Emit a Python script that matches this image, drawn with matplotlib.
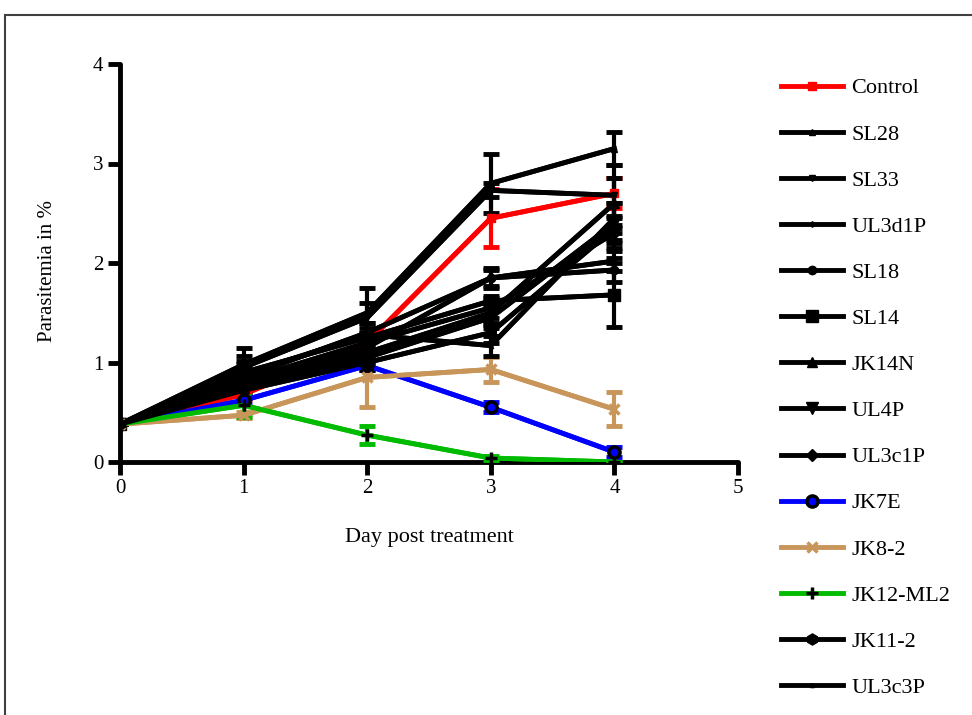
import matplotlib
matplotlib.use("Agg")
import matplotlib.pyplot as plt
from matplotlib.patches import Rectangle

days = [0, 1, 2, 3, 4]
series_names = ["Control", "SL28", "SL33", "UL3d1P", "SL18", "SL14", "JK14N",
                "UL4P", "UL3c1P", "JK7E", "JK8-2", "JK12-ML2", "JK11-2", "UL3c3P"]

control = [0.38, 0.68, 1.20, 2.45, 2.70]
sl28 = [0.38, 0.98, 1.50, 2.80, 3.15]
sl33 = [0.38, 0.95, 1.45, 2.73, 2.68]
ul3d1p = [0.38, 0.85, 1.30, 1.85, 2.02]
sl18 = [0.38, 0.80, 1.15, 1.85, 1.93]
sl14 = [0.38, 0.90, 1.25, 1.62, 1.68]
jk14n = [0.38, 0.78, 1.10, 1.50, 2.60]
ul4p = [0.38, 0.75, 1.05, 1.45, 2.40]
ul3c1p = [0.38, 0.82, 1.20, 1.55, 2.30]
jk7e = [0.38, 0.62, 0.97, 0.55, 0.10]
jk8_2 = [0.38, 0.47, 0.85, 0.93, 0.53]
jk12_ml2 = [0.38, 0.57, 0.27, 0.04, 0.00]
jk11_2 = [0.38, 0.72, 1.00, 1.30, 2.35]
ul3c3p = [0.38, 0.88, 1.28, 1.17, 2.45]

control_err = [0.0, 0.05, 0.08, 0.29, 0.15]
sl28_err = [0.0, 0.17, 0.25, 0.30, 0.17]
sl33_err = [0.0, 0.12, 0.15, 0.07, 0.30]
ul3d1p_err = [0.0, 0.10, 0.10, 0.08, 0.10]
sl18_err = [0.0, 0.10, 0.08, 0.10, 0.12]
sl14_err = [0.0, 0.12, 0.10, 0.05, 0.32]
jk14n_err = [0.0, 0.08, 0.10, 0.12, 0.25]
ul4p_err = [0.0, 0.08, 0.08, 0.10, 0.20]
ul3c1p_err = [0.0, 0.10, 0.10, 0.10, 0.15]
jk7e_err = [0.0, 0.04, 0.05, 0.05, 0.05]
jk8_2_err = [0.0, 0.03, 0.30, 0.13, 0.17]
jk12_ml2_err = [0.0, 0.12, 0.09, 0.02, 0.0]
jk11_2_err = [0.0, 0.08, 0.08, 0.10, 0.12]
ul3c3p_err = [0.0, 0.10, 0.12, 0.10, 0.15]

values = [control, sl28, sl33, ul3d1p, sl18, sl14, jk14n, ul4p, ul3c1p,
          jk7e, jk8_2, jk12_ml2, jk11_2, ul3c3p]
errors = [control_err, sl28_err, sl33_err, ul3d1p_err, sl18_err, sl14_err,
          jk14n_err, ul4p_err, ul3c1p_err, jk7e_err, jk8_2_err, jk12_ml2_err,
          jk11_2_err, ul3c3p_err]

colors = ["#ff0000", "black", "black", "black", "black", "black", "black",
          "black", "black", "#0000ff", "#c8965a", "#00bb00", "black", "black"]
markers = ["s", "^", "v", "d", "o", "s", "^", "v", "D", "o", "x", "+", "h", "^"]
msizes = [6, 5, 5, 3, 6, 8, 7, 8, 6, 8, 7, 8, 8, 3]

plt.rcParams["font.family"] = ["Liberation Serif", "DejaVu Serif"]

fig = plt.figure(figsize=(9.72, 7.15), dpi=100)
ax = fig.add_axes([120 / 972, 253 / 715, 618 / 972, 398 / 715])

handles = []
for vals, errs, c, m, ms, name in zip(values, errors, colors, markers, msizes, series_names):
    ax.errorbar(days, vals, yerr=errs, color=c, lw=3.5, capsize=6, capthick=3.5,
                elinewidth=3, zorder=3)
    mfc = c
    mec = "black" if name == "JK7E" else c
    mew = 2.5 if name in ("JK7E", "JK8-2", "JK12-ML2") else 1
    if name == "JK12-ML2":
        mec = "black"
    h, = ax.plot(days, vals, color=c, lw=3.5, marker=m, ms=ms, mfc=mfc, mec=mec,
                 mew=mew, zorder=4, label=name)
    handles.append(h)

ax.set_xlim(0, 5)
ax.set_ylim(0, 4)
ax.set_xticks([0, 1, 2, 3, 4, 5])
ax.set_yticks([0, 1, 2, 3, 4])
for s in ["top", "right"]:
    ax.spines[s].set_visible(False)
for s in ["left", "bottom"]:
    ax.spines[s].set_linewidth(3.5)
ax.tick_params(axis="both", width=3.5, length=9, labelsize=15, direction="out",
               pad=3)
ax.set_ylabel("Parasitemia in %", fontsize=15)
ax.yaxis.set_label_coords(-0.102, 0.48)
ax.set_xlabel("Day post treatment", fontsize=16, labelpad=22)
for sp in ax.spines.values():
    sp.set_capstyle("round")

leg = fig.legend(handles=handles, loc="upper left",
                 bbox_to_anchor=(772 / 972, 1 - 69 / 715), frameon=False,
                 fontsize=16, handlelength=2.8, handletextpad=0.36,
                 labelspacing=1.15, borderaxespad=0)

fig.patches.append(Rectangle((5 / 972, -0.1), 1.1, 0.1 + (715 - 15) / 715,
                             transform=fig.transFigure, fill=False,
                             edgecolor="#404040", lw=1.5))

fig.savefig("out.png", dpi=100)
